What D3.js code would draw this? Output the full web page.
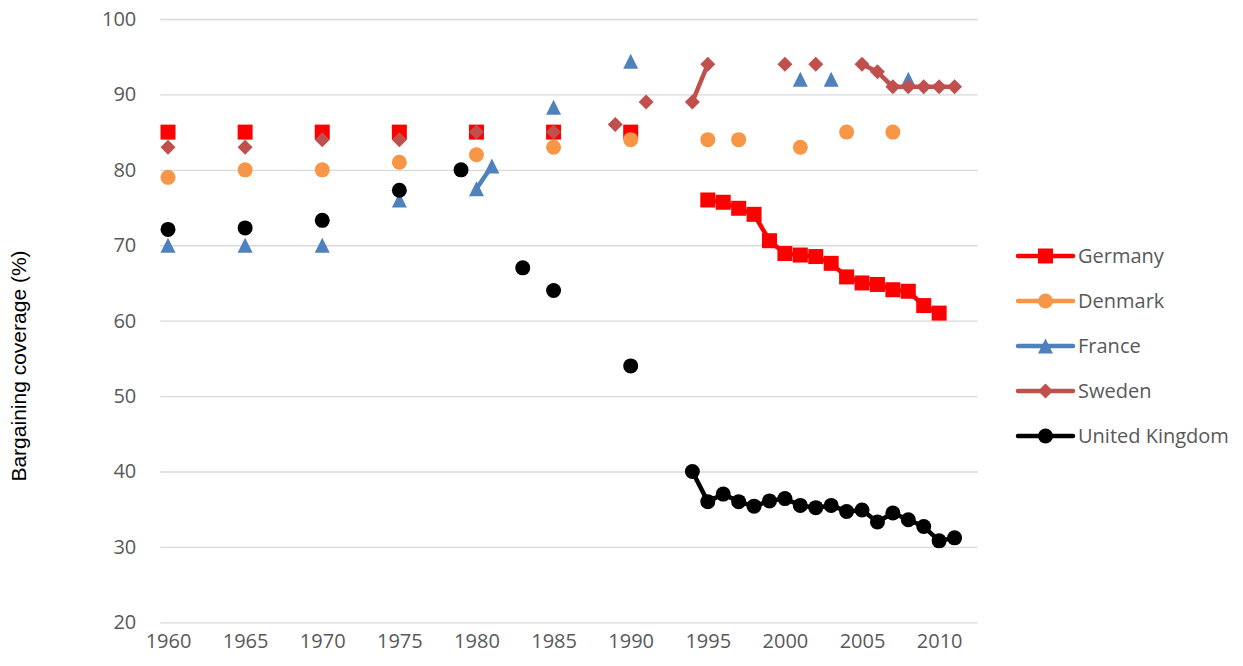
<!DOCTYPE html>
<html>
<head>
<meta charset="utf-8">
<script src="https://cdn.jsdelivr.net/npm/d3@7"></script>
<style>
  html, body { margin: 0; padding: 0; background: #fff; }
  svg { display: block; }
</style>
</head>
<body>
<svg id="chart" width="1243" height="666"></svg>
<script>
// ---- Data ----
const seriesNames = ["Germany", "Denmark", "France", "Sweden", "United Kingdom"];

const germanyYears  = [1960,1965,1970,1975,1980,1985,1990,1995,1996,1997,1998,1999,2000,2001,2002,2003,2004,2005,2006,2007,2008,2009,2010];
const germanyValues = [85,85,85,85,85,85,85,76,75.7,74.9,74.1,70.6,68.9,68.7,68.5,67.6,65.8,65,64.8,64.1,63.9,62,61];

const denmarkYears  = [1960,1965,1970,1975,1980,1985,1990,1995,1997,2001,2004,2007];
const denmarkValues = [79,80,80,81,82,83,84,84,84,83,85,85];

const franceYears  = [1960,1965,1970,1975,1980,1981,1985,1990,2001,2003,2008];
const franceValues = [70,70,70,76,77.5,80.5,88.3,94.4,92,92,92];

const swedenYears  = [1960,1965,1970,1975,1980,1985,1989,1991,1994,1995,2000,2002,2005,2006,2007,2008,2009,2010,2011];
const swedenValues = [83,83,84,84,85,85,86,89,89,94,94,94,94,93,91,91,91,91,91];

const ukYears  = [1960,1965,1970,1975,1979,1983,1985,1990,1994,1995,1996,1997,1998,1999,2000,2001,2002,2003,2004,2005,2006,2007,2008,2009,2010,2011];
const ukValues = [72.1,72.3,73.3,77.3,80,67,64,54,40,36,37,36,35.4,36.1,36.4,35.5,35.2,35.5,34.7,34.9,33.3,34.5,33.6,32.7,30.8,31.2];

const xTicks = [1960,1965,1970,1975,1980,1985,1990,1995,2000,2005,2010];
const yTicks = [20,30,40,50,60,70,80,90,100];

// ---- Layout ----
const svg = d3.select("#chart");
const x = d3.scaleLinear().domain([1959.5, 2012.5]).range([160.3, 977.7]);
const y = d3.scaleLinear().domain([20, 100]).range([622.3, 19]);

const colors = ["#FF0000", "#F79646", "#4F81BD", "#C0504D", "#000000"];
const shapes = ["square", "circle", "triangle", "diamond", "circle"];
const seriesData = [
  [germanyYears, germanyValues],
  [denmarkYears, denmarkValues],
  [franceYears, franceValues],
  [swedenYears, swedenValues],
  [ukYears, ukValues]
].map(([ys, vs]) => ys.map((yr, i) => ({year: yr, value: vs[i]})));

// Gridlines
const yAxis = d3.axisLeft(y).tickValues(yTicks).tickSize(-(x.range()[1] - x.range()[0])).tickPadding(24);
const gy = svg.append("g").attr("transform", `translate(${x.range()[0]},0)`).call(yAxis);
gy.select(".domain").remove();
gy.selectAll(".tick line").attr("stroke", "#D9D9D9").attr("stroke-width", 1.3);
gy.selectAll(".tick text")
  .attr("fill", "#595959")
  .style("font-family", "'Open Sans', sans-serif")
  .style("font-size", "20px");

// X axis labels
const xAxis = d3.axisBottom(x).tickValues(xTicks).tickSize(0).tickPadding(12).tickFormat(d3.format("d"));
const gx = svg.append("g").attr("transform", `translate(0,${y.range()[0]})`).call(xAxis);
gx.select(".domain").remove();
gx.selectAll(".tick text")
  .attr("fill", "#595959")
  .style("font-family", "'Open Sans', sans-serif")
  .style("font-size", "20px");

// Y axis title
svg.append("text")
  .attr("transform", `translate(26,366) rotate(-90)`)
  .attr("text-anchor", "middle")
  .attr("fill", "#000")
  .style("font-family", "'Liberation Sans', Arial, sans-serif")
  .style("font-size", "21px")
  .text("Bargaining coverage (%)");

// Marker drawing
function markerPath(shape) {
  const s = 7.5;
  if (shape === "square") return `M${-s},${-s}H${s}V${s}H${-s}Z`;
  if (shape === "triangle") return `M0,${-s}L${s},${s}L${-s},${s}Z`;
  if (shape === "diamond") return `M0,${-s}L${s},0L0,${s}L${-s},0Z`;
  return d3.symbol(d3.symbolCircle, Math.PI * s * s)();
}

const line = d3.line().x(d => x(d.year)).y(d => y(d.value));

seriesData.forEach((data, si) => {
  const g = svg.append("g");
  // consecutive-year segments
  const segments = [];
  let cur = [];
  data.forEach((d, i) => {
    if (i > 0 && d.year - data[i - 1].year === 1) {
      cur.push(d);
    } else {
      if (cur.length > 1) segments.push(cur);
      cur = [d];
    }
  });
  if (cur.length > 1) segments.push(cur);
  g.selectAll("path.seg").data(segments).join("path")
    .attr("class", "seg")
    .attr("d", line)
    .attr("fill", "none")
    .attr("stroke", colors[si])
    .attr("stroke-width", 4.5)
    .attr("stroke-linejoin", "round")
    .attr("stroke-linecap", "round");
  g.selectAll("path.mk").data(data).join("path")
    .attr("class", "mk")
    .attr("transform", d => `translate(${x(d.year)},${y(d.value)})`)
    .attr("d", markerPath(shapes[si]))
    .attr("fill", colors[si]);
});

// Legend
const legend = svg.append("g");
seriesNames.forEach((name, i) => {
  const ly = 256 + i * 45;
  legend.append("line")
    .attr("x1", 1018).attr("x2", 1073).attr("y1", ly).attr("y2", ly)
    .attr("stroke", colors[i]).attr("stroke-width", 4.5).attr("stroke-linecap", "round");
  legend.append("path")
    .attr("transform", `translate(1045.5,${ly})`)
    .attr("d", markerPath(shapes[i]))
    .attr("fill", colors[i]);
  legend.append("text")
    .attr("x", 1078).attr("y", ly)
    .attr("dy", "0.35em")
    .attr("fill", "#595959")
    .style("font-family", "'Open Sans', sans-serif")
    .style("font-size", "20px")
    .text(name);
});
</script>
</body>
</html>
